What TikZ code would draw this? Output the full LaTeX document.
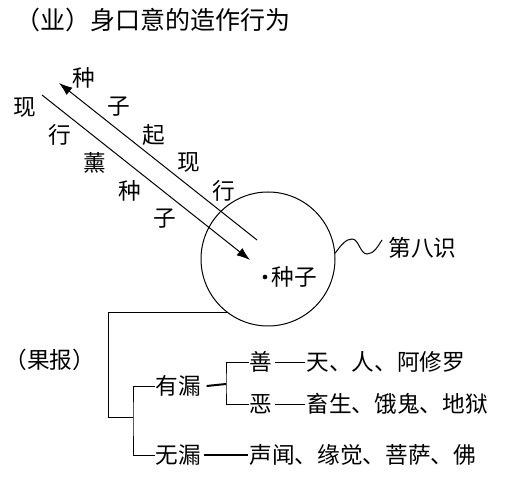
\documentclass[tikz,border=0pt]{standalone}
\usepackage{fontspec}
\setmainfont{Noto Sans CJK SC}
\usetikzlibrary{arrows.meta}
\begin{document}
\begin{tikzpicture}[x=0.75pt, y=-0.75pt, line width=0.75pt,
    word/.style={inner sep=0pt, font=\fontsize{17}{17}\selectfont}]
    \useasboundingbox (0,0) rectangle (507,477);

    \node [inner sep=0pt, anchor=west, font=\fontsize{18.75}{18.75}\selectfont] at (15, 20) (title) {（业）身口意的造作行为};

    \node [draw, circle, minimum size=100.5pt, inner sep=0pt] at (268, 259) (alaya) {};
    \node [fill, circle, inner sep=0pt, minimum size=3.5pt] at (265, 277) (dot) {};
    \node [word, anchor=west] at (271, 277) (seed) {种子};

    \coordinate (a1) at (257, 240);
    \coordinate (a2) at (59, 83);
    \draw [black, -{Latex[length=10pt, width=7pt]}] (a1) -- (a2);
    \coordinate (b1) at (42, 95);
    \coordinate (b2) at (250, 260);
    \draw [black, -{Latex[length=10pt, width=7pt]}] (b1) -- (b2);

    \foreach \c [count=\i from 0] in {种,子,起,现,行}
        \node [word] at (84+35*\i, 78+28.3*\i) (up\i) {\c};
    \foreach \c [count=\i from 0] in {现,行,薰,种,子}
        \node [word] at (25+35*\i, 107+28*\i) (down\i) {\c};

    \node [word, anchor=west] at (388, 248) (eight) {第八识};
    \coordinate (w) at (382, 240);
    \draw (alaya.5) .. controls (341, 245) and (346, 239) .. (352, 239)
        .. controls (359, 239) and (360, 254) .. (367, 254)
        .. controls (374, 254) and (378, 246) .. (w);

    \node [word, anchor=west] at (4, 360) (fruit) {（果报）};
    \node [word, anchor=west] at (155, 386) (you) {有漏};
    \node [word, anchor=west] at (155, 455) (wu) {无漏};
    \node [word, anchor=west] at (249, 362) (good) {善};
    \node [word, anchor=west] at (249, 404) (bad) {恶};
    \node [word, anchor=west] at (306, 362) (gods) {天、人、阿修罗};
    \node [word, anchor=west] at (306, 404) (beasts) {畜生、饿鬼、地狱};
    \node [word, anchor=west] at (249, 455) (saints) {声闻、缘觉、菩萨、佛};

    \coordinate (j1) at (108, 417);
    \coordinate (j2) at (133, 417);
    \draw (alaya.233) -| (j1) -- (j2);
    \draw (you.west) -| (j2) |- (wu.west);
    \coordinate (k) at (226, 384);
    \draw [line width=1.5pt] ([xshift=4pt]you.east) -- (k);
    \draw (good.west) -| (k) |- (bad.west);
    \draw ([xshift=2pt]good.east) -- ([xshift=-1pt]gods.west);
    \draw ([xshift=2pt]bad.east) -- ([xshift=-1pt]beasts.west);
    \draw [line width=1.5pt] ([xshift=2pt]wu.east) -- ([xshift=-1pt]saints.west);
\end{tikzpicture}
\end{document}
